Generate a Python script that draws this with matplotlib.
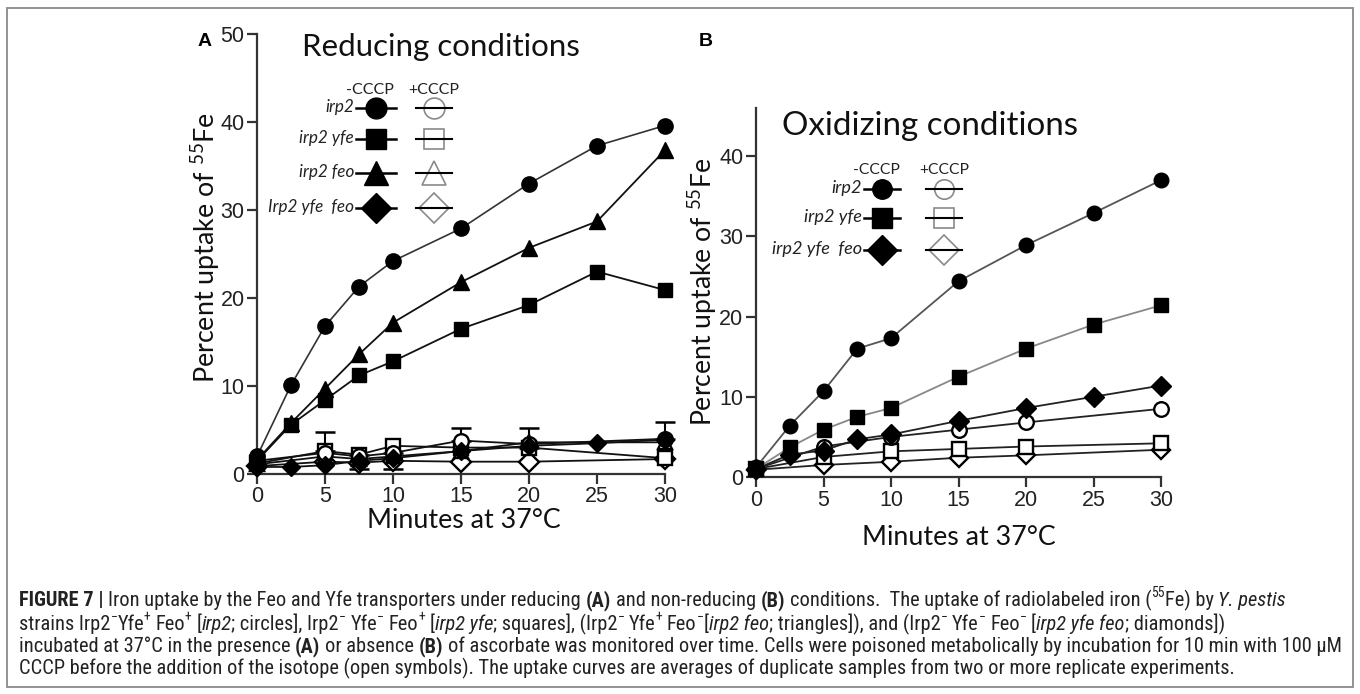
import matplotlib
matplotlib.use('Agg')
import matplotlib.pyplot as plt
from matplotlib import font_manager
from matplotlib.patches import Rectangle
import numpy as np

# ---------------- data ----------------
t_full = [0, 2.5, 5, 7.5, 10, 15, 20, 25, 30]
t_open_a = [0, 5, 7.5, 10, 15, 20, 30]
t_open_b = [0, 5, 10, 15, 20, 30]

# Panel A (reducing), -CCCP (filled)
a_irp2 = [2.0, 10.1, 16.8, 21.3, 24.2, 27.9, 33.0, 37.3, 39.6]
a_irp2_yfe = [1.5, 5.6, 8.4, 11.2, 12.8, 16.5, 19.2, 23.0, 20.9]
a_irp2_feo = [1.6, 5.8, 9.7, 13.6, 17.2, 21.8, 25.7, 28.7, 36.8]
a_irp2_yfe_feo = [0.8, 0.8, 1.0, 1.5, 1.8, 2.6, 3.2, 3.5, 3.9]
# Panel A, +CCCP (open)
ao_irp2 = [1.5, 2.4, 2.0, 2.4, 3.8, 3.4, 4.0]
ao_irp2_yfe = [1.2, 2.6, 2.2, 3.2, 3.0, 3.0, 1.8]
ao_irp2_feo = [1.1, 2.0, 1.7, 2.0, 2.6, 3.6, 3.6]
ao_irp2_yfe_feo = [0.9, 1.4, 1.3, 1.5, 1.4, 1.4, 1.7]
ao_irp2_err_up = [0, 0, 0, 0, 1.4, 0, 1.9]
ao_irp2_err_lo = [0, 0, 0, 1.8, 0, 0, 0]
ao_yfe_err_up = [0, 2.2, 0, 0, 0, 2.2, 0]
ao_yfe_err_lo = [0, 0, 1.6, 0, 0, 0, 0]

# Panel B (oxidizing), -CCCP (filled)
b_irp2 = [1.2, 6.4, 10.7, 16.0, 17.3, 24.4, 28.9, 32.9, 37.0]
b_irp2_yfe = [1.0, 3.7, 5.9, 7.5, 8.6, 12.5, 16.0, 19.0, 21.4]
b_irp2_yfe_feo = [1.0, 2.8, 3.3, 4.7, 5.3, 7.0, 8.6, 10.0, 11.4]
# Panel B, +CCCP (open)
bo_irp2 = [1.0, 3.8, 5.0, 5.9, 6.8, 8.5]
bo_irp2_yfe = [1.0, 2.5, 3.2, 3.5, 3.8, 4.2]
bo_irp2_yfe_feo = [0.9, 1.5, 1.9, 2.4, 2.7, 3.4]

x_ticks = [0, 5, 10, 15, 20, 25, 30]
a_yticks = [0, 10, 20, 30, 40, 50]
b_yticks = [0, 10, 20, 30, 40]

legend_a = ["irp2", "irp2 yfe", "irp2 feo", "Irp2 yfe  feo"]
legend_b = ["irp2", "irp2 yfe", "irp2 yfe  feo"]

# ---------------- setup ----------------
W, H = 1360, 694
fig = plt.figure(figsize=(13.6, 6.94), dpi=100)
fig.patch.set_facecolor('white')
renderer = fig.canvas.get_renderer()

names = {f.name for f in font_manager.fontManager.ttflist}
CAP_FONT = next((n for n in ['Liberation Sans Narrow', 'Roboto Condensed', 'Liberation Sans']
                 if n in names), 'DejaVu Sans')
LBL_FONT = 'Lato' if 'Lato' in names else 'DejaVu Sans'
TICK_FONT = 'Liberation Sans' if 'Liberation Sans' in names else 'DejaVu Sans'

plt.rcParams['mathtext.fontset'] = 'custom'
plt.rcParams['mathtext.rm'] = LBL_FONT
plt.rcParams['mathtext.it'] = LBL_FONT + ':italic'
plt.rcParams['mathtext.bf'] = LBL_FONT + ':bold'

SPINE = '#333333'
TXT = '#222222'


def make_axes(left, right, top_px, bottom_px):
    return fig.add_axes([left / W, 1 - bottom_px / H, (right - left) / W, (bottom_px - top_px) / H])


def style_axes(ax, ymax, yticks):
    ax.set_xlim(0, 30)
    ax.set_ylim(0, ymax)
    ax.set_facecolor('none')
    for s in ['top', 'right']:
        ax.spines[s].set_visible(False)
    for s in ['left', 'bottom']:
        ax.spines[s].set_linewidth(1.6)
        ax.spines[s].set_color(SPINE)
    ax.set_xticks(x_ticks)
    ax.set_yticks(yticks)
    ax.tick_params(direction='out', length=7, width=1.6, color=SPINE,
                   labelsize=15.5, labelcolor=TXT, pad=2)
    for lab in ax.get_xticklabels() + ax.get_yticklabels():
        lab.set_fontfamily(TICK_FONT)


def series(ax, x, y, marker, filled, ms, lc='#111111', lw=1.3, z=3):
    ax.plot(x, y, color=lc, lw=lw, zorder=z, clip_on=False)
    ax.plot(x, y, linestyle='none', marker=marker, ms=ms,
            mfc='black' if filled else 'white', mec='black',
            mew=1.0 if filled else 1.7, zorder=z + 1, clip_on=False)


def errbars(ax, x, y, lo, up):
    idx = [i for i in range(len(x)) if lo[i] > 0 or up[i] > 0]
    ax.errorbar([x[i] for i in idx], [y[i] for i in idx],
                yerr=[[lo[i] for i in idx], [up[i] for i in idx]],
                fmt='none', ecolor='black', elinewidth=1.5, capsize=7, capthick=1.8,
                zorder=2.5, clip_on=False)


axA = make_axes(257, 665, 34, 474)
axB = make_axes(756, 1161, 108, 477)
style_axes(axA, 50, a_yticks)
style_axes(axB, 46, b_yticks)

# Panel A
errbars(axA, t_open_a, ao_irp2, ao_irp2_err_lo, ao_irp2_err_up)
errbars(axA, t_open_a, ao_irp2_yfe, ao_yfe_err_lo, ao_yfe_err_up)
series(axA, t_open_a, ao_irp2_yfe_feo, 'D', False, 10, z=3)
series(axA, t_open_a, ao_irp2_feo, '^', False, 10.5, z=3)
series(axA, t_open_a, ao_irp2_yfe, 's', False, 10, z=3)
series(axA, t_open_a, ao_irp2, 'o', False, 10.5, z=3)
series(axA, t_full, a_irp2_yfe_feo, 'D', True, 9.5, z=5)
series(axA, t_full, a_irp2_yfe, 's', True, 10.5, z=5)
series(axA, t_full, a_irp2_feo, '^', True, 11.5, z=5)
series(axA, t_full, a_irp2, 'o', True, 11, lc='#333333', lw=1.2, z=5)

# Panel B
series(axB, t_open_b, bo_irp2_yfe_feo, 'D', False, 9.5, lc='#222222', z=3)
series(axB, t_open_b, bo_irp2_yfe, 's', False, 9.5, lc='#222222', z=3)
series(axB, t_open_b, bo_irp2, 'o', False, 10.5, lc='#222222', z=3)
series(axB, t_full, b_irp2_yfe_feo, 'D', True, 10, lc='#222222', z=5)
series(axB, t_full, b_irp2_yfe, 's', True, 10.5, lc='#888888', z=5)
series(axB, t_full, b_irp2, 'o', True, 10.5, lc='#555555', z=5)

# ---------------- overlay (pixel coordinates) ----------------
ov = fig.add_axes([0, 0, 1, 1], zorder=10)
ov.set_xlim(0, W)
ov.set_ylim(H, 0)
ov.axis('off')

ov.add_patch(Rectangle((7, 8), W - 14, 679, fill=False, ec='#8a8a8a', lw=1.3))


def fit(t, target, dim='w'):
    bb = t.get_window_extent(renderer)
    cur = bb.width if dim == 'w' else bb.height
    t.set_fontsize(t.get_fontsize() * target / cur)


# panel letters
ov.text(205, 46, 'A', fontsize=14, fontweight='bold', fontfamily=TICK_FONT, ha='center', va='baseline', color='black')
ov.text(706, 46, 'B', fontsize=14, fontweight='bold', fontfamily=TICK_FONT, ha='center', va='baseline', color='black')

# titles
tA = ov.text(441, 56, 'Reducing conditions', fontsize=20, fontfamily=LBL_FONT, ha='center', va='baseline', color='#111111')
fit(tA, 278)
tB = ov.text(930, 135, 'Oxidizing conditions', fontsize=20, fontfamily=LBL_FONT, ha='center', va='baseline', color='#111111')
fit(tB, 296)

# axis labels
ylab = 'Percent uptake of $^{55}$Fe'
yA = ov.text(206, 247, ylab, rotation=90, fontsize=18, fontfamily=LBL_FONT, ha='center', va='center', color='#111111')
fit(yA, 271, 'h')
yB = ov.text(703, 292, ylab, rotation=90, fontsize=18, fontfamily=LBL_FONT, ha='center', va='center', color='#111111')
fit(yB, 269, 'h')
xA = ov.text(464, 528, 'Minutes at 37°C', fontsize=18, fontfamily=LBL_FONT, ha='center', va='baseline', color='#111111')
fit(xA, 192)
xB = ov.text(959, 545, 'Minutes at 37°C', fontsize=18, fontfamily=LBL_FONT, ha='center', va='baseline', color='#111111')
fit(xB, 192)


# legends
def legend(x_lab, x_f, x_o, half_f, half_o, y_head, rows_y, labels, markers, sizes, long_w, head_w):
    h1 = ov.text(x_f - 6, y_head + 6, '-CCCP', fontsize=11, fontfamily=LBL_FONT, ha='center', va='baseline', color=TXT)
    fit(h1, head_w)
    ov.text(x_o, y_head + 6, '+CCCP', fontsize=h1.get_fontsize(), fontfamily=LBL_FONT, ha='center',
            va='baseline', color=TXT)
    probe = ov.text(0, 0, labels[-1], fontsize=11, fontstyle='italic', fontfamily=LBL_FONT)
    fit(probe, long_w)
    fs = probe.get_fontsize()
    probe.remove()
    for y, lab, m, s in zip(rows_y, labels, markers, sizes):
        ov.text(x_lab, y + 4, lab, fontsize=fs, fontstyle='italic', fontfamily=LBL_FONT,
                ha='right', va='baseline', color=TXT)
        ov.plot([x_f - half_f, x_f + half_f], [y, y], color='black', lw=1.8)
        ov.plot([x_f], [y], marker=m, ms=s, mfc='black', mec='black', linestyle='none')
        ov.plot([x_o], [y], marker=m, ms=s, mfc='white', mec='#8a8a8a', mew=1.2, linestyle='none')
        ov.plot([x_o - half_o, x_o + half_o], [y, y], color='black', lw=1.5)


legend(354, 376, 434, 20, 18, 88, [108, 139, 173, 208], legend_a,
       ['o', 's', '^', 'D'], [15, 15, 17, 15], 86, 48)
legend(862, 882, 944, 18, 18, 168, [189, 218, 250], legend_b,
       ['o', 's', 'D'], [14, 14, 15], 90, 47)

# ---------------- caption (rich text) ----------------
_sp_cache = {}


def space_w(fs, weight, style):
    key = (round(fs, 3), weight, style)
    if key not in _sp_cache:
        a = ov.text(0, 0, 'a a', fontsize=fs, fontweight=weight, fontstyle=style, fontfamily=CAP_FONT)
        b = ov.text(0, 0, 'aa', fontsize=fs, fontweight=weight, fontstyle=style, fontfamily=CAP_FONT)
        _sp_cache[key] = a.get_window_extent(renderer).width - b.get_window_extent(renderer).width
        a.remove()
        b.remove()
    return _sp_cache[key]


def rich(x, y, runs, size):
    texts = []
    cx = x
    for s, kind in runs:
        sup = 'sup' in kind
        fs = size * 0.68 if sup else size
        weight = 'bold' if 'b' in kind else 'normal'
        style = 'italic' if 'i' in kind else 'normal'
        dy = -size * 0.45 * 100 / 72 if sup else 0
        lead = len(s) - len(s.lstrip(' '))
        trail = len(s) - len(s.rstrip(' '))
        core = s.strip(' ')
        sw = space_w(fs, weight, style)
        cx += lead * sw
        if core:
            t = ov.text(cx, y + dy, core, fontsize=fs, fontweight=weight, fontstyle=style,
                        fontfamily=CAP_FONT, ha='left', va='baseline', color=TXT)
            texts.append(t)
            cx += t.get_window_extent(renderer).width
        cx += trail * sw
    return texts, cx - x


M = '\u2212'
line1 = [("FIGURE 7 | ", 'b'), ("Iron uptake by the Feo and Yfe transporters under reducing ", 'r'), ("(A)", 'b'),
         (" and non-reducing ", 'r'), ("(B)", 'b'),
         (" conditions.  The uptake of radiolabeled iron (", 'r'), ("55", 'sup'), ("Fe) by ", 'r'),
         ("Y. pestis", 'i')]
line2 = [("strains Irp2", 'r'), (M, 'sup'), ("Yfe", 'r'), ("+", 'sup'), (" Feo", 'r'), ("+", 'sup'), (" [", 'r'),
         ("irp2", 'i'), ("; circles], Irp2", 'r'), (M, 'sup'), (" Yfe", 'r'), (M, 'sup'), (" Feo", 'r'), ("+", 'sup'),
         (" [", 'r'), ("irp2 yfe", 'i'), ("; squares], (Irp2", 'r'), (M, 'sup'), (" Yfe", 'r'), ("+", 'sup'),
         (" Feo", 'r'), (M, 'sup'), ("[", 'r'), ("irp2 feo", 'i'), ("; triangles]), and (Irp2", 'r'), (M, 'sup'),
         (" Yfe", 'r'), (M, 'sup'), (" Feo", 'r'), (M, 'sup'), (" [", 'r'), ("irp2 yfe feo", 'i'),
         ("; diamonds])", 'r')]
line3 = [("incubated at 37°C in the presence ", 'r'), ("(A)", 'b'), (" or absence ", 'r'), ("(B)", 'b'),
         (" of ascorbate was monitored over time. Cells were poisoned metabolically by incubation for 10 min with 100 µM", 'r')]
line4 = [("CCCP before the addition of the isotope (open symbols). The uptake curves are averages of duplicate "
          "samples from two or more replicate experiments.", 'r')]

probe_texts, w3 = rich(19, 652, line3, 11)
for t in probe_texts:
    t.remove()
cap_size = 11 * (1332 - 19) / w3

for runs, yb in zip([line1, line2, line3, line4], [606, 630, 652, 674]):
    rich(19, yb, runs, cap_size)

fig.savefig('out.png', dpi=100, facecolor='white')
